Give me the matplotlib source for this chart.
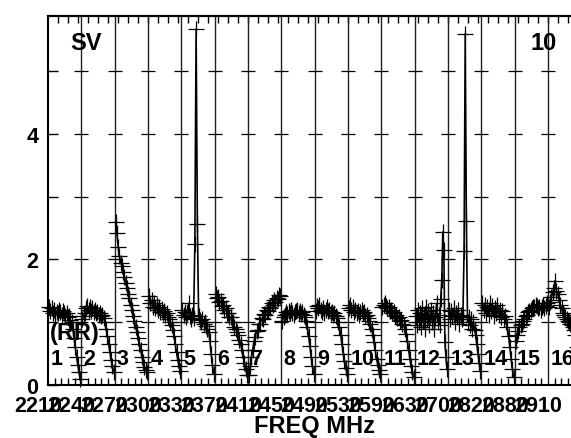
import numpy as np
import matplotlib.pyplot as plt
from matplotlib.transforms import ScaledTranslation

plt.rcParams['font.family'] = ['Liberation Sans', 'DejaVu Sans']
plt.rcParams['font.weight'] = 'bold'

# start frequency of each band (MHz)
freqs = ["2210", "2240", "2270", "2300", "2330", "2370", "2410", "2450",
         "2490", "2530", "2590", "2630", "2700", "2820", "2880", "2910"]

# SWR readings, one list per band
seg1 = [1.24, 1.18, 1.22, 1.15, 1.19, 1.12, 1.17, 1.14, 1.2, 1.16, 1.12, 1.18, 1.14,
        1.1, 1.15, 1.08, 1.1, 1.03, 1.0, 0.9, 0.75, 0.6, 0.45, 0.32, 0.2, 0.1]
seg2 = [1.05, 1.1, 1.15, 1.22, 1.26, 1.2, 1.24, 1.18, 1.22, 1.16, 1.2, 1.14, 1.17,
        1.12, 1.15, 1.1, 1.12, 1.06, 1.0, 0.9, 0.78, 0.65, 0.52, 0.4, 0.3, 0.2]
seg3 = [2.6, 2.42, 2.2, 2.05, 1.95, 1.9, 1.8, 1.72, 1.62, 1.55, 1.45, 1.38, 1.28,
        1.2, 1.1, 1.02, 0.92, 0.84, 0.75, 0.66, 0.55, 0.45, 0.36, 0.28, 0.24, 0.2]
seg4 = [1.42, 1.3, 1.35, 1.25, 1.3, 1.22, 1.27, 1.2, 1.24, 1.17, 1.21, 1.15, 1.18,
        1.12, 1.14, 1.08, 1.05, 1.0, 0.95, 0.88, 0.78, 0.65, 0.52, 0.4, 0.3, 0.22]
seg5 = [1.2, 1.12, 1.16, 1.08, 1.14, 1.3, 1.1, 1.05, 1.12, 1.06, 2.25, 5.67, 2.57,
        1.1, 1.04, 1.0, 1.05, 0.98, 1.0, 0.94, 0.9, 0.85, 0.7, 0.5, 0.32, 0.18]
seg6 = [1.45, 1.38, 1.4, 1.32, 1.34, 1.26, 1.28, 1.2, 1.22, 1.14, 1.15, 1.08, 1.08,
        1.0, 1.0, 0.93, 0.9, 0.84, 0.8, 0.72, 0.65, 0.55, 0.45, 0.35, 0.25, 0.16]
seg7 = [0.16, 0.3, 0.44, 0.56, 0.7, 0.76, 0.86, 0.88, 0.97, 0.98, 1.06, 1.05, 1.13,
        1.12, 1.19, 1.18, 1.25, 1.23, 1.3, 1.28, 1.35, 1.33, 1.39, 1.37, 1.43, 1.42]
seg8 = [1.02, 1.08, 1.12, 1.16, 1.13, 1.18, 1.15, 1.19, 1.14, 1.12, 1.16, 1.18, 1.2,
        1.15, 1.18, 1.13, 1.16, 1.12, 1.08, 1.02, 0.92, 0.78, 0.62, 0.45, 0.3, 0.18]
seg9 = [1.18, 1.26, 1.22, 1.28, 1.2, 1.17, 1.22, 1.15, 1.2, 1.24, 1.18, 1.2, 1.14,
        1.17, 1.12, 1.15, 1.1, 1.06, 1.0, 0.92, 0.8, 0.65, 0.5, 0.38, 0.27, 0.18]
seg10 = [1.22, 1.28, 1.2, 1.24, 1.16, 1.2, 1.14, 1.18, 1.12, 1.16, 1.2, 1.14, 1.17,
         1.1, 1.12, 1.06, 1.02, 0.97, 0.9, 0.8, 0.68, 0.55, 0.42, 0.32, 0.24, 0.18]
seg11 = [1.24, 1.28, 1.3, 1.26, 1.22, 1.24, 1.18, 1.2, 1.15, 1.16, 1.1, 1.12, 1.06,
         1.08, 1.02, 1.04, 0.98, 0.95, 0.9, 0.82, 0.7, 0.56, 0.42, 0.3, 0.2, 0.12]
seg12 = [1.1, 0.95, 1.2, 1.0, 1.15, 0.92, 1.22, 1.02, 1.12, 0.9, 1.25, 1.05, 1.18,
         0.95, 1.1, 1.2, 1.0, 1.15, 0.9, 1.08, 1.3, 1.0, 1.12, 0.95, 1.37, 1.67, 2.44,
         2.15, 0.68, 0.45, 0.25]
seg13 = [1.2, 1.05, 1.18, 1.1, 1.22, 1.0, 1.15, 1.08, 1.2, 0.98, 1.12, 1.05, 1.1,
         2.13, 5.6, 2.61, 1.0, 1.08, 0.95, 1.05, 0.9, 1.0, 0.88, 0.8, 0.65, 0.5, 0.35, 0.22]
seg14 = [1.3, 1.2, 1.28, 1.15, 1.25, 1.12, 1.3, 1.18, 1.26, 1.1, 1.22, 1.15, 1.28,
         1.12, 1.2, 1.08, 1.18, 1.05, 1.1, 1.0, 0.92, 0.78, 0.6, 0.42, 0.25, 0.12]
seg15 = [0.7, 0.8, 0.86, 0.92, 0.95, 0.98, 1.02, 1.05, 1.1, 1.12, 1.16, 1.18, 1.2,
         1.22, 1.25, 1.24, 1.28, 1.26, 1.22, 1.25, 1.2, 1.24, 1.28, 1.22, 1.26, 1.3]
seg16 = [1.25, 1.32, 1.4, 1.48, 1.55, 1.66, 1.5, 1.45, 1.35, 1.28, 1.22, 1.15, 1.12,
         1.08, 1.05, 1.02, 1.0, 0.98, 0.96, 0.92, 0.88, 0.8, 0.6, 0.4, 0.25, 0.15]

segments = [seg1, seg2, seg3, seg4, seg5, seg6, seg7, seg8,
            seg9, seg10, seg11, seg12, seg13, seg14, seg15, seg16]
nseg = len(segments)
ymax = 5.88

fig = plt.figure(figsize=(5.71, 4.39), dpi=100)
ax = fig.add_axes([48/571, 53/439, 533.3/571, 369/439])

# band separators
for k in range(1, nseg):
    ax.axvline(k, color='#222222', lw=1.0, zorder=1)

# little grid crosses at each integer level
gx, gy = [], []
for k in range(1, nseg):
    for lev in range(1, 6):
        gx.append(k)
        gy.append(lev)
ax.plot(gx, gy, '_', color='black', ms=9.5, mew=0.9, zorder=1)

for k, vals in enumerate(segments):
    x = k + np.linspace(0.03, 0.97, len(vals))
    ax.plot(x, vals, '-+', color='black', lw=1.2, ms=11, mew=0.9, clip_on=False, zorder=3)
    ax.text(k + 0.07, 0.335, str(k + 1), fontsize=15.5, fontweight='bold', zorder=4)

ax.text(0.06, 0.73, "(RR)", fontsize=17, fontweight='bold', zorder=4)
ax.text(0.68, 5.35, "SV", fontsize=17, fontweight='bold')
ax.text(14.49, 5.35, "10", fontsize=17, fontweight='bold')

ax.set_xlim(0, nseg)
ax.set_ylim(0, ymax)

ax.set_xticks(range(nseg))
ax.set_xticklabels(freqs, fontsize=15.5, fontweight='bold')
ax.set_xticks(np.arange(0, nseg, 0.2), minor=True)
ax.tick_params(axis='x', which='major', direction='in', length=0, pad=7)
ax.tick_params(axis='x', which='minor', direction='in', length=5, width=1.0, top=False)
for lab in ax.get_xticklabels():
    lab.set_transform(lab.get_transform() + ScaledTranslation(-0.1, 0, fig.dpi_scale_trans))

ax.set_yticks(range(6))
ax.set_yticklabels(["0", "", "2", "", "4", ""], fontsize=15.5, fontweight='bold')
ax.tick_params(axis='y', direction='in', length=7, width=1.0, pad=7)

# top scale ticks
top = ax.secondary_xaxis('top')
top.set_xticks(np.arange(0.3, nseg, 0.3))
top.set_xticklabels([])
top.tick_params(direction='in', length=5, width=1.0)

for sp in ax.spines.values():
    sp.set_linewidth(1.5)
top.spines['top'].set_linewidth(1.5)

ax.set_xlabel("FREQ MHz", fontsize=17, fontweight='bold', labelpad=-1)

fig.savefig("out.png", dpi=100)
